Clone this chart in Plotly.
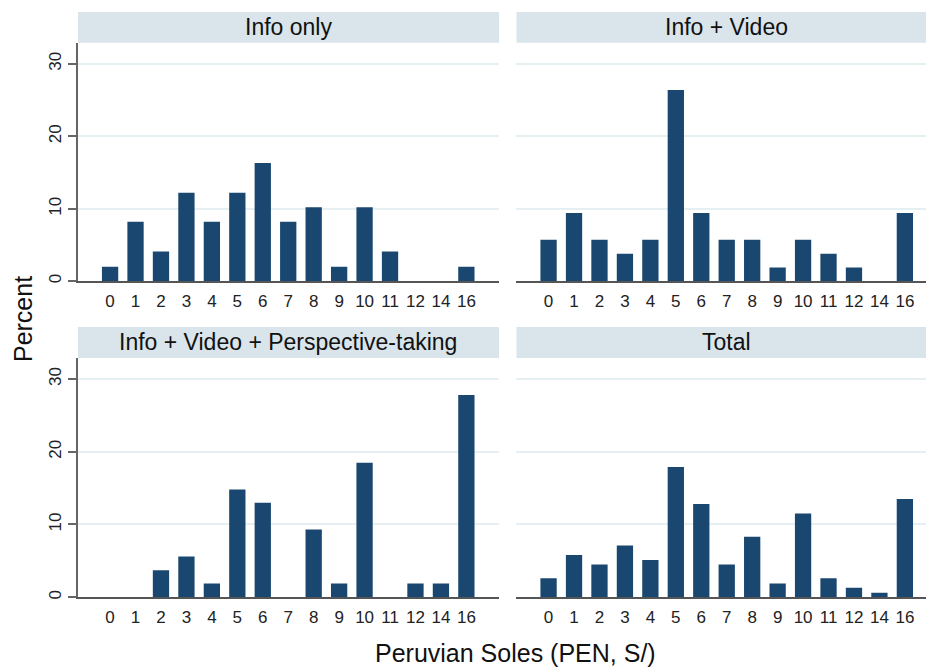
import plotly.graph_objects as go

# Amount given, in Peruvian soles (categorical axis)
soles = ["0", "1", "2", "3", "4", "5", "6", "7", "8", "9", "10", "11", "12", "14", "16"]

# Percent of respondents per amount, by treatment arm
info_only = [2.0, 8.2, 4.1, 12.2, 8.2, 12.2, 16.3, 8.2, 10.2, 2.0, 10.2, 4.1, 0.0, 0.0, 2.0]
info_video = [5.7, 9.4, 5.7, 3.8, 5.7, 26.4, 9.4, 5.7, 5.7, 1.9, 5.7, 3.8, 1.9, 0.0, 9.4]
info_video_pt = [0.0, 0.0, 3.7, 5.6, 1.9, 14.8, 13.0, 0.0, 9.3, 1.9, 18.5, 0.0, 1.9, 1.9, 27.8]
total = [2.6, 5.8, 4.5, 7.1, 5.1, 17.9, 12.8, 4.5, 8.3, 1.9, 11.5, 2.6, 1.3, 0.6, 13.5]

panel_titles = ["Info only", "Info + Video", "Info + Video + Perspective-taking", "Total"]
panel_values = [info_only, info_video, info_video_pt, total]

W, H = 926, 671
NAVY = "#1a476f"
STRIP = "#d9e5eb"
GRID = "#e6eff1"
FONT = "Liberation Sans, Arial, sans-serif"

# pixel boxes of the plot regions: (x0, x1, y_top, y_bottom)
boxes = [
    (77.5, 499, 43, 282),
    (516, 926, 43, 282),
    (77.5, 499, 359, 599),
    (516, 926, 359, 599),
]
strip_h = 31


def px_x(v):
    return v / W


def px_y(v):
    return 1 - v / H


fig = go.Figure()
shapes = []
annotations = []

for i, (title, vals) in enumerate(zip(panel_titles, panel_values)):
    n = i + 1
    sfx = "" if n == 1 else str(n)
    x0, x1, yt, yb = boxes[i]
    left = i % 2 == 0

    fig.add_trace(go.Bar(
        x=soles, y=vals, width=0.64,
        marker=dict(color=NAVY, line=dict(width=0)),
        xaxis="x" + sfx, yaxis="y" + sfx, showlegend=False,
        hovertemplate="%{x} soles: %{y:.1f}%<extra>" + title + "</extra>",
    ))

    span = (x1 - x0) / 25.45
    fig.layout["xaxis" + sfx] = dict(
        domain=[px_x(x0), px_x(x1)], anchor="y" + sfx,
        type="category", range=[-1.28, -1.28 + span],
        showline=True, linecolor="#555555", linewidth=2,
        ticks="", showgrid=False, zeroline=False,
        tickfont=dict(size=17, color="#222222", family=FONT),
        ticklabelstandoff=3,
    )
    fig.layout["yaxis" + sfx] = dict(
        domain=[px_y(yb), px_y(yt)], anchor="x" + sfx,
        range=[0, 32.9], tickvals=[0, 10, 20, 30],
        showgrid=True, gridcolor=GRID, gridwidth=1.5, zeroline=False,
        showline=left, linecolor="#666666", linewidth=1.5,
        ticks="outside" if left else "", ticklen=8, tickcolor="#666666", tickwidth=1.5,
        showticklabels=left, tickangle=-90,
        tickfont=dict(size=17, color="#222222", family=FONT),
        ticklabelstandoff=0,
    )

    shapes.append(dict(
        type="rect", xref="paper", yref="paper",
        x0=px_x(x0 + 0.5), x1=px_x(x1), y0=px_y(yt), y1=px_y(yt - strip_h),
        fillcolor=STRIP, line=dict(width=0), layer="below",
    ))
    annotations.append(dict(
        text=title, xref="paper", yref="paper",
        x=px_x((x0 + 499 if left else x0 + 937) / 2), y=px_y(yt - strip_h / 2),
        showarrow=False, xanchor="center", yanchor="middle",
        font=dict(size=23, color="#111111", family=FONT),
    ))

annotations.append(dict(
    text="Percent", xref="paper", yref="paper", x=px_x(23), y=px_y(320),
    textangle=-90, showarrow=False, xanchor="center", yanchor="middle",
    font=dict(size=25, color="#111111", family=FONT),
))
annotations.append(dict(
    text="Peruvian Soles (PEN, S/)", xref="paper", yref="paper", x=px_x(515), y=px_y(655),
    showarrow=False, xanchor="center", yanchor="middle",
    font=dict(size=25, color="#111111", family=FONT),
))

fig.update_layout(
    width=W, height=H,
    margin=dict(l=0, r=0, t=0, b=0),
    paper_bgcolor="white", plot_bgcolor="white",
    shapes=shapes, annotations=annotations,
    font=dict(family=FONT),
)

# drop the browser's default 8px body margin so the figure fills the window
fig.write_html(
    "out.html",
    config={"displayModeBar": False},
    post_script="document.body.style.margin='0px';",
)
